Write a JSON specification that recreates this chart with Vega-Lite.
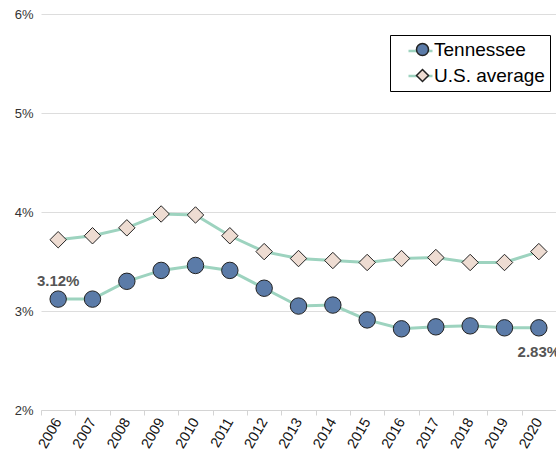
{
  "$schema": "https://vega.github.io/schema/vega-lite/v6.json",
  "width": 515,
  "height": 396,
  "autosize": {"type": "none"},
  "padding": {"left": 41, "top": 14, "right": 0, "bottom": 47},
  "background": "white",
  "config": {"view": {"stroke": null}, "font": "Liberation Sans"},
  "data": {
    "values": [
      {"year": "2006", "series": "Tennessee", "value": 0.0312},
      {"year": "2007", "series": "Tennessee", "value": 0.0312},
      {"year": "2008", "series": "Tennessee", "value": 0.0330},
      {"year": "2009", "series": "Tennessee", "value": 0.0341},
      {"year": "2010", "series": "Tennessee", "value": 0.0346},
      {"year": "2011", "series": "Tennessee", "value": 0.0341},
      {"year": "2012", "series": "Tennessee", "value": 0.0323},
      {"year": "2013", "series": "Tennessee", "value": 0.0305},
      {"year": "2014", "series": "Tennessee", "value": 0.0306},
      {"year": "2015", "series": "Tennessee", "value": 0.0291},
      {"year": "2016", "series": "Tennessee", "value": 0.0282},
      {"year": "2017", "series": "Tennessee", "value": 0.0284},
      {"year": "2018", "series": "Tennessee", "value": 0.0285},
      {"year": "2019", "series": "Tennessee", "value": 0.0283},
      {"year": "2020", "series": "Tennessee", "value": 0.0283},
      {"year": "2006", "series": "U.S. average", "value": 0.0372},
      {"year": "2007", "series": "U.S. average", "value": 0.0376},
      {"year": "2008", "series": "U.S. average", "value": 0.0384},
      {"year": "2009", "series": "U.S. average", "value": 0.0398},
      {"year": "2010", "series": "U.S. average", "value": 0.0397},
      {"year": "2011", "series": "U.S. average", "value": 0.0376},
      {"year": "2012", "series": "U.S. average", "value": 0.0360},
      {"year": "2013", "series": "U.S. average", "value": 0.0353},
      {"year": "2014", "series": "U.S. average", "value": 0.0351},
      {"year": "2015", "series": "U.S. average", "value": 0.0349},
      {"year": "2016", "series": "U.S. average", "value": 0.0353},
      {"year": "2017", "series": "U.S. average", "value": 0.0354},
      {"year": "2018", "series": "U.S. average", "value": 0.0349},
      {"year": "2019", "series": "U.S. average", "value": 0.0349},
      {"year": "2020", "series": "U.S. average", "value": 0.0360}
    ]
  },
  "encoding": {
    "x": {
      "field": "year",
      "type": "ordinal",
      "scale": {"type": "band", "paddingInner": 0, "paddingOuter": 0},
      "axis": {
        "title": null,
        "labelAngle": -60,
        "labelFontSize": 14.5,
        "labelColor": "#111",
        "domainColor": "#d4d4d4",
        "tickColor": "#d4d4d4",
        "tickSize": 5,
        "tickBand": "extent",
        "labelPadding": 4,
        "grid": false
      }
    },
    "y": {
      "field": "value",
      "type": "quantitative",
      "scale": {"domain": [0.02, 0.06]},
      "axis": {
        "title": null,
        "values": [0.02, 0.03, 0.04, 0.05, 0.06],
        "format": ".0%",
        "domain": false,
        "ticks": false,
        "labelPadding": 8,
        "labelFontSize": 13,
        "labelColor": "#333",
        "gridColor": "#dddddd",
        "gridWidth": 1
      }
    }
  },
  "layer": [
    {
      "mark": {"type": "line", "strokeWidth": 3},
      "encoding": {
        "color": {
          "field": "series",
          "type": "nominal",
          "scale": {"domain": ["U.S. average", "Tennessee"], "range": ["#9dd3bf", "#9dd3bf"]},
          "legend": {
            "title": null,
            "orient": "none",
            "legendX": 361,
            "legendY": 18.5,
            "padding": 5,
            "symbolType": "stroke",
            "symbolSize": 576,
            "symbolStrokeWidth": 2.5,
            "symbolOffset": 0,
            "labelFontSize": 19,
            "labelExpr": "' '",
            "labelOffset": 2,
            "rowPadding": 1
          }
        }
      }
    },
    {
      "mark": {"type": "point", "filled": true, "stroke": "#222", "strokeWidth": 1, "size": 270, "opacity": 1},
      "encoding": {
        "shape": {
          "field": "series",
          "type": "nominal",
          "scale": {"domain": ["Tennessee", "U.S. average"], "range": ["circle", "diamond"]},
          "legend": {
            "title": null,
            "orient": "none",
            "legendX": 349,
            "legendY": 21,
            "padding": 5,
            "strokeColor": "#000",
            "symbolSize": 144,
            "symbolOffset": 18,
            "labelFontSize": 19,
            "labelColor": "#000",
            "labelOffset": 2,
            "rowPadding": 6,
            "encode": {"symbols": {"update": {"stroke": {"value": "#222"}, "strokeWidth": {"value": 1}}}}
          }
        },
        "fill": {
          "field": "series",
          "type": "nominal",
          "scale": {"domain": ["Tennessee", "U.S. average"], "range": ["#5b7ba8", "#eedcd2"]},
          "legend": {
            "title": null,
            "orient": "none",
            "legendX": 349,
            "legendY": 21,
            "padding": 5,
            "strokeColor": "#000",
            "symbolSize": 144,
            "symbolOffset": 18,
            "labelFontSize": 19,
            "labelColor": "#000",
            "labelOffset": 2,
            "rowPadding": 6,
            "encode": {"symbols": {"update": {"stroke": {"value": "#222"}, "strokeWidth": {"value": 1}}}}
          }
        }
      }
    },
    {
      "transform": [{"filter": "datum.series == 'Tennessee' && datum.year == '2006'"}],
      "mark": {"type": "text", "dy": -18, "fontWeight": "bold", "fontSize": 15, "color": "#555"},
      "encoding": {"text": {"field": "value", "type": "quantitative", "format": ".2%"}}
    },
    {
      "transform": [{"filter": "datum.series == 'Tennessee' && datum.year == '2020'"}],
      "mark": {"type": "text", "dy": 24, "fontWeight": "bold", "fontSize": 15, "color": "#555"},
      "encoding": {"text": {"field": "value", "type": "quantitative", "format": ".2%"}}
    }
  ]
}
